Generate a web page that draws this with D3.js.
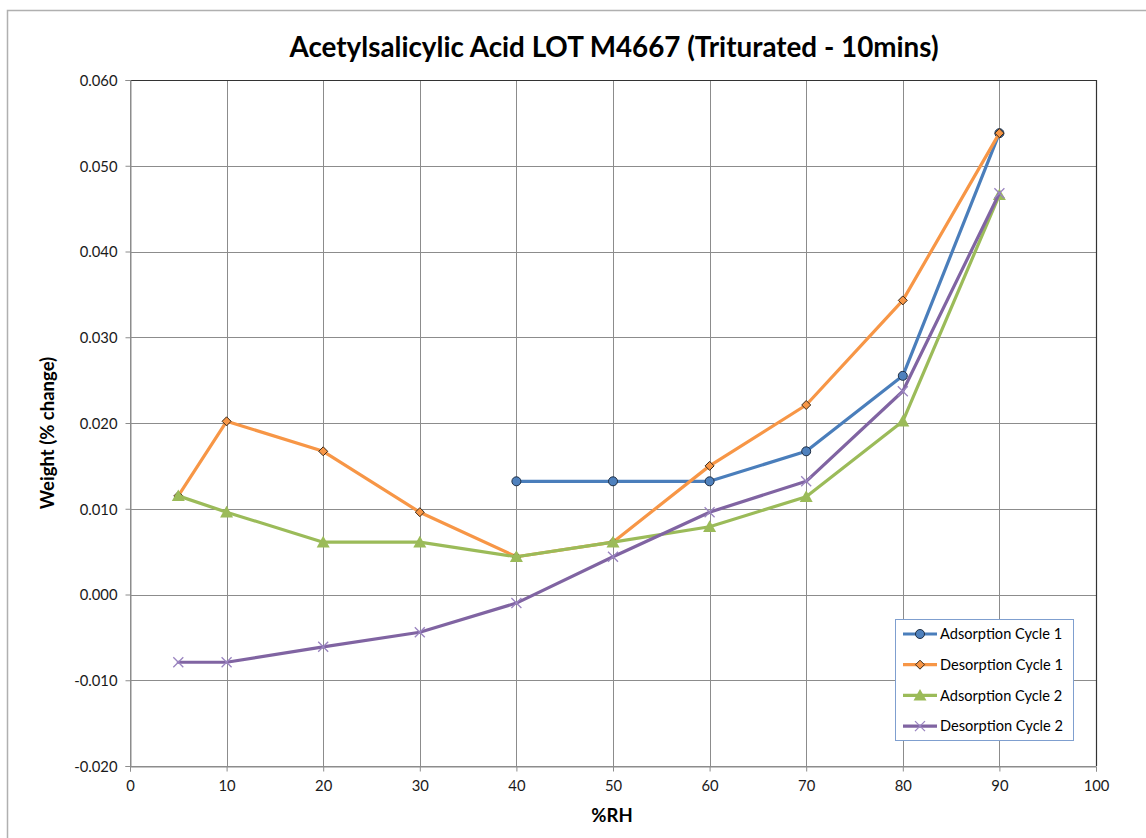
<!DOCTYPE html>
<html>
<head>
<meta charset="utf-8">
<script src="https://cdn.jsdelivr.net/npm/d3@7"></script>
<style>
  html, body { margin: 0; padding: 0; background: #fff; }
  svg { display: block; }
  text { font-family: Lato, "Open Sans", sans-serif; }
</style>
</head>
<body>
<svg id="chart" width="1146" height="838"></svg>
<script>
// %RH steps
const rhAdsorption1 = [40, 50, 60, 70, 80, 90];
const rhDesorption = [90, 80, 70, 60, 50, 40, 30, 20, 10, 5];
const rhAdsorption2 = [5, 10, 20, 30, 40, 50, 60, 70, 80, 90];

// Weight change (%)
const adsorption1 = [0.0132, 0.0132, 0.0132, 0.0167, 0.0255, 0.0538];
const desorption1 = [0.0538, 0.0343, 0.0221, 0.0150, 0.0061, 0.0044, 0.0096, 0.0167, 0.0202, 0.0115];
const adsorption2 = [0.0115, 0.0096, 0.0061, 0.0061, 0.0044, 0.0061, 0.0079, 0.0114, 0.0202, 0.0466];
const desorption2 = [0.0468, 0.0237, 0.0132, 0.0096, 0.0044, -0.0010, -0.0044, -0.0061, -0.0079, -0.0079];

const seriesNames = ["Adsorption Cycle 1", "Desorption Cycle 1", "Adsorption Cycle 2", "Desorption Cycle 2"];
const xTicks = [0, 10, 20, 30, 40, 50, 60, 70, 80, 90, 100];
const yTicks = [-0.020, -0.010, 0.000, 0.010, 0.020, 0.030, 0.040, 0.050, 0.060];

const series = [
  { name: seriesNames[0], xs: rhAdsorption1, ys: adsorption1, color: "#4a7ebb", fill: "#4f81bd", marker: "circle" },
  { name: seriesNames[1], xs: rhDesorption, ys: desorption1, color: "#f79646", fill: "#f79646", marker: "diamond" },
  { name: seriesNames[2], xs: rhAdsorption2, ys: adsorption2, color: "#9bbb59", fill: "#9bbb59", marker: "triangle" },
  { name: seriesNames[3], xs: rhDesorption, ys: desorption2, color: "#8064a2", fill: "#9a84c0", marker: "cross" }
];

const svg = d3.select("#chart");
const plot = { left: 130, right: 1096, top: 80, bottom: 766 };

const x = d3.scaleLinear().domain([0, 100]).range([plot.left, plot.right]);
const y = d3.scaleLinear().domain([-0.02, 0.06]).range([plot.bottom, plot.top]);

// plain hyphen for negative values
const fmtY = d3.formatLocale({ decimal: ".", thousands: ",", grouping: [3], currency: ["", ""], minus: "-" }).format(".3f");

// outer chart frame
svg.append("rect")
  .attr("x", 7.5).attr("y", 10.5).attr("width", 1150).attr("height", 840)
  .attr("fill", "#fff").attr("stroke", "#b0b0b0").attr("stroke-width", 1.5);

// gridlines
const grid = svg.append("g");
grid.selectAll("line.h").data(yTicks).join("line")
  .attr("x1", plot.left).attr("x2", plot.right)
  .attr("y1", d => Math.round(y(d)) + 0.5).attr("y2", d => Math.round(y(d)) + 0.5)
  .attr("stroke", "#8c8c8c").attr("stroke-width", 1);
grid.selectAll("line.v").data(xTicks).join("line")
  .attr("y1", plot.top).attr("y2", plot.bottom)
  .attr("x1", d => Math.round(x(d)) + 0.5).attr("x2", d => Math.round(x(d)) + 0.5)
  .attr("stroke", "#8c8c8c").attr("stroke-width", 1);

// plot frame (top and right edges)
svg.append("path")
  .attr("d", `M${plot.left},${plot.top + 0.5}H${plot.right + 0.5}V${plot.bottom}`)
  .attr("fill", "none").attr("stroke", "#333").attr("stroke-width", 1.2);

// axes
const yAxis = svg.append("g")
  .attr("transform", `translate(${plot.left + 0.5},0)`)
  .call(d3.axisLeft(y).tickValues(yTicks).tickFormat(fmtY).tickSize(5).tickPadding(8));
const xAxis = svg.append("g")
  .attr("transform", `translate(0,${Math.round(plot.bottom) + 0.5})`)
  .call(d3.axisBottom(x).tickValues(xTicks).tickFormat(d3.format("d")).tickSize(5).tickPadding(9));
[yAxis, xAxis].forEach(a => {
  a.select(".domain").attr("stroke", "#8c8c8c");
  a.selectAll(".tick line").attr("stroke", "#8c8c8c");
  a.selectAll(".tick text").attr("fill", "#1a1a1a").style("font-size", "14.8px").style("font-family", "Lato, sans-serif");
});
yAxis.selectAll(".tick text").attr("dy", "0.36em");

// title and axis titles
svg.append("text")
  .attr("x", 614).attr("y", 57).attr("text-anchor", "middle")
  .style("font-size", "27.8px").style("font-weight", "bold").attr("fill", "#000")
  .text("Acetylsalicylic Acid LOT M4667 (Triturated - 10mins)");
svg.append("text")
  .attr("transform", "translate(54,433) rotate(-90)").attr("text-anchor", "middle")
  .style("font-size", "18.5px").style("font-weight", "bold").attr("fill", "#000")
  .text("Weight (% change)");
svg.append("text")
  .attr("x", 612).attr("y", 822).attr("text-anchor", "middle")
  .style("font-size", "18.5px").style("font-weight", "bold").attr("fill", "#000")
  .text("%RH");

// marker drawing
function drawMarker(g, s, cx, cy) {
  if (s.marker === "circle") {
    g.append("circle").attr("cx", cx).attr("cy", cy).attr("r", 4.5)
      .attr("fill", s.fill).attr("stroke", "#1e2e44").attr("stroke-width", 1);
  } else if (s.marker === "diamond") {
    const r = 4.5;
    g.append("path").attr("d", `M${cx},${cy - r}L${cx + r},${cy}L${cx},${cy + r}L${cx - r},${cy}Z`)
      .attr("fill", s.fill).attr("stroke", "#3a2a1a").attr("stroke-width", 1);
  } else if (s.marker === "triangle") {
    const r = 6.5;
    g.append("path").attr("d", `M${cx},${cy - r}L${cx + r},${cy + r * 0.8}L${cx - r},${cy + r * 0.8}Z`)
      .attr("fill", s.fill);
  } else {
    const r = 5;
    g.append("path").attr("d", `M${cx - r},${cy - r}L${cx + r},${cy + r}M${cx - r},${cy + r}L${cx + r},${cy - r}`)
      .attr("stroke", s.fill).attr("stroke-width", 1.3).attr("fill", "none");
  }
}

// series lines and markers
const line = d3.line().x(d => x(d[0])).y(d => y(d[1]));
const marksG = svg.append("g");
series.forEach(s => {
  const pts = s.xs.map((v, i) => [v, s.ys[i]]);
  marksG.append("path").datum(pts).attr("d", line)
    .attr("fill", "none").attr("stroke", s.color).attr("stroke-width", 3.2)
    .attr("stroke-linejoin", "round").attr("stroke-linecap", "round");
  const mg = marksG.append("g");
  pts.forEach(p => drawMarker(mg, s, x(p[0]), y(p[1])));
});

// legend
const legend = svg.append("g");
legend.append("rect")
  .attr("x", 895.5).attr("y", 619.5).attr("width", 178).attr("height", 121)
  .attr("fill", "#fff").attr("stroke", "#7f9fcf").attr("stroke-width", 1);
series.forEach((s, i) => {
  const ly = 634 + i * 30.7;
  legend.append("line").attr("x1", 903).attr("x2", 937).attr("y1", ly).attr("y2", ly)
    .attr("stroke", s.color).attr("stroke-width", 3.2);
  drawMarker(legend, s, 920, ly);
  legend.append("text").attr("x", 940).attr("y", ly).attr("dy", "0.35em")
    .style("font-size", "14.6px").attr("fill", "#000").text(s.name);
});
</script>
</body>
</html>
